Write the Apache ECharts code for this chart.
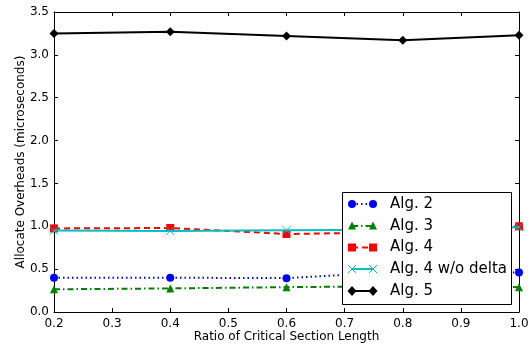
<!DOCTYPE html>
<html><head><meta charset="utf-8">
<script src="https://cdn.jsdelivr.net/npm/echarts@6/dist/echarts.min.js"></script>
<style>html,body{margin:0;padding:0;background:#fff}#c{width:531px;height:350px}</style>
</head><body><div id="c"></div>
<script>
var xValues = [0.2, 0.4, 0.6, 0.8, 1.0];
var alg2 = [0.40, 0.40, 0.395, 0.47, 0.46];
var alg3 = [0.265, 0.275, 0.29, 0.30, 0.29];
var alg4 = [0.975, 0.98, 0.91, 0.93, 1.0];
var alg4nd = [0.95, 0.945, 0.955, 0.96, 0.99];
var alg5 = [3.25, 3.27, 3.22, 3.17, 3.23];
var names = ['Alg. 2', 'Alg. 3', 'Alg. 4', 'Alg. 4 w/o delta', 'Alg. 5'];
var xTitle = 'Ratio of Critical Section Length';
var yTitle = 'Allocate Overheads (microseconds)';

var FONT = 'DejaVu Sans';
var colors = ['#0000ff', '#008000', '#ff0000', '#00bfbf', '#000000'];
var dashes = [[1.5, 3], [6, 3, 1.5, 3], [6, 4], 'solid', 'solid'];
var xPath = 'path://M0,0L10,10M10,0L0,10';
var symbols = ['circle', 'triangle', 'rect', xPath, 'diamond'];
var sizes = [8, 8, 8, 8, 9];
var datas = [alg2, alg3, alg4, alg4nd, alg5];

function pairs(arr) { return xValues.map(function (x, i) { return [x, arr[i]]; }); }

var series = datas.map(function (d, i) {
  var isX = i === 3;
  return {
    name: names[i], type: 'line', data: pairs(d),
    symbol: symbols[i], symbolSize: sizes[i], showAllSymbol: true,
    lineStyle: { color: colors[i], width: 2, type: dashes[i] },
    itemStyle: isX ? { color: 'rgba(0,0,0,0)', borderColor: colors[i], borderWidth: 1 } : { color: colors[i], borderColor: colors[i], borderWidth: 0 },
    emphasis: { disabled: true }, animation: false, z: 2 + i
  };
});

// legend drawn as graphic (matplotlib style: line with markers at both ends)
var lg = { x: 342.5, y: 192.5, w: 169, h: 112 };
var rowY = [204, 226, 247.5, 269, 291];
var graphics = [{
  type: 'rect', shape: { x: lg.x, y: lg.y, width: lg.w, height: lg.h },
  style: { fill: '#fff', stroke: '#000', lineWidth: 1 }, z: 100
}, {
  type: 'text', x: 21, y: 162, rotation: Math.PI / 2,
  style: { text: yTitle, fill: '#000', font: '12px "DejaVu Sans"', align: 'center', verticalAlign: 'middle' }, z: 100
}, {
  type: 'text', x: 286.5, y: 337,
  style: { text: xTitle, fill: '#000', font: '12px "DejaVu Sans"', align: 'center', verticalAlign: 'middle' }, z: 100
}];
function marker(i, cx, cy) {
  var c = colors[i];
  if (i === 0) return { type: 'circle', shape: { cx: cx, cy: cy, r: 4 }, style: { fill: c }, z: 102 };
  if (i === 1) return { type: 'polygon', shape: { points: [[cx, cy - 4.5], [cx + 4, cy + 3.5], [cx - 4, cy + 3.5]] }, style: { fill: c }, z: 102 };
  if (i === 2) return { type: 'rect', shape: { x: cx - 4, y: cy - 4, width: 8, height: 8 }, style: { fill: c }, z: 102 };
  if (i === 3) return { type: 'polyline', shape: { points: [[cx - 4, cy - 4], [cx + 4, cy + 4]] }, style: { stroke: c, lineWidth: 1, fill: null }, z: 102 };
  return { type: 'polygon', shape: { points: [[cx, cy - 5], [cx + 4.5, cy], [cx, cy + 5], [cx - 4.5, cy]] }, style: { fill: c }, z: 102 };
}
names.forEach(function (n, i) {
  var y = rowY[i];
  var dash = dashes[i] === 'solid' ? null : dashes[i];
  graphics.push({ type: 'line', shape: { x1: 352, y1: y, x2: 373, y2: y }, style: { stroke: colors[i], lineWidth: 2, lineDash: dash }, z: 101 });
  [352, 373].forEach(function (cx) {
    graphics.push(marker(i, cx, y));
    if (i === 3) graphics.push({ type: 'polyline', shape: { points: [[cx + 4, y - 4], [cx - 4, y + 4]] }, style: { stroke: colors[i], lineWidth: 1, fill: null }, z: 102 });
  });
  graphics.push({ type: 'text', style: { x: 390, y: y, text: n, fill: '#000', font: '15px "DejaVu Sans"', verticalAlign: 'middle' }, z: 103 });
});

var common = {
  type: 'value', interval: 0.1, min: 0.2, max: 1.0,
  axisLine: { show: true, onZero: false, lineStyle: { color: '#000', width: 1 } },
  axisTick: { show: true, inside: true, length: 4, lineStyle: { color: '#000' } },
  splitLine: { show: false }
};
var chart = echarts.init(document.getElementById('c'), null, { renderer: 'canvas' });
chart.setOption({
  animation: false,
  backgroundColor: '#fff',
  grid: { left: 54, right: 12, top: 12, bottom: 38, show: false, containLabel: false, outerBoundsMode: 'none' },
  xAxis: [
    Object.assign({}, common, {
      position: 'bottom',
      axisLabel: { fontFamily: FONT, fontSize: 12, color: '#000', margin: 6,
        formatter: function (v) { return v.toFixed(1); } }
    }),
    Object.assign({}, common, { position: 'top', axisLabel: { show: false } })
  ],
  yAxis: [
    {
      type: 'value', min: 0, max: 3.5, interval: 0.5, position: 'left',
      axisLine: { show: true, lineStyle: { color: '#000', width: 1 } },
      axisTick: { show: true, inside: true, length: 4, lineStyle: { color: '#000' } },
      splitLine: { show: false },
      axisLabel: { fontFamily: FONT, fontSize: 12, color: '#000', margin: 5,
        formatter: function (v) { return v.toFixed(1); } }
    },
    {
      type: 'value', min: 0, max: 3.5, interval: 0.5, position: 'right',
      axisLine: { show: true, lineStyle: { color: '#000', width: 1 } },
      axisTick: { show: true, inside: true, length: 4, lineStyle: { color: '#000' } },
      splitLine: { show: false }, axisLabel: { show: false }
    }
  ],
  series: series,
  graphic: graphics
});
</script>
</body></html>
